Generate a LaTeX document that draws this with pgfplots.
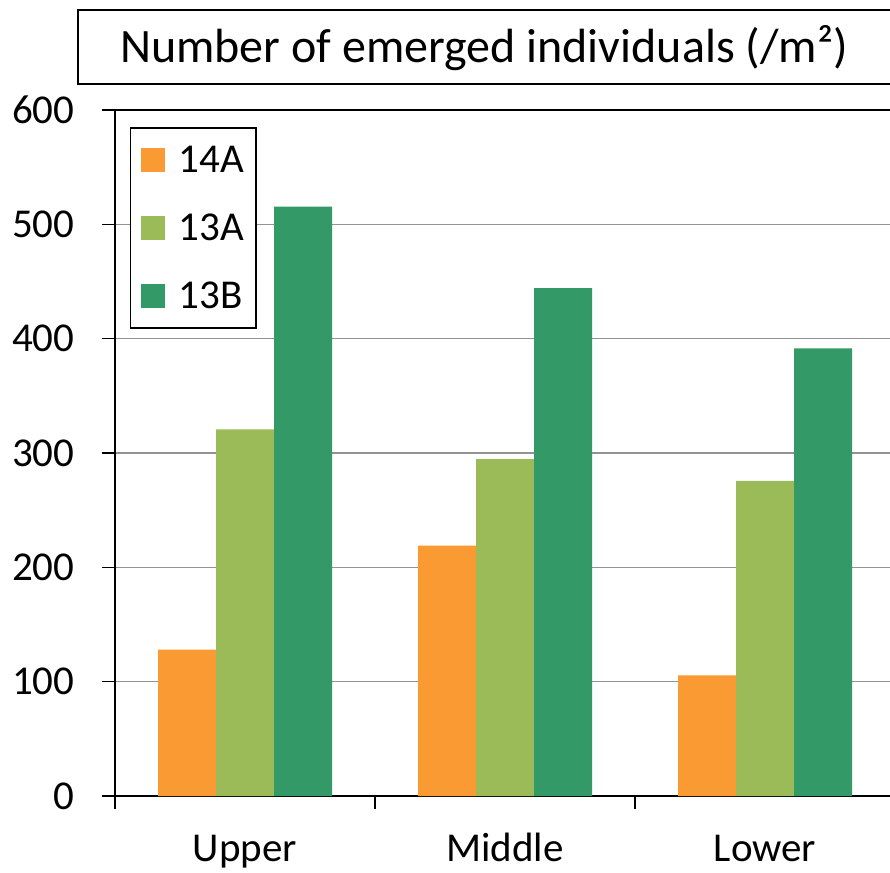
\documentclass[border=0pt]{standalone}
\usepackage{fontspec}
\setmainfont{Carlito}
\usepackage{pgfplots}
\pgfplotsset{compat=1.18}
\definecolor{c14A}{HTML}{F99A33}
\definecolor{c13A}{HTML}{9BBB59}
\definecolor{c13B}{HTML}{339966}
\begin{document}
\begin{tikzpicture}[x=1pt,y=1pt]
\path[use as bounding box] (0,0) rectangle (890,872);
\clip (0,0) rectangle (890,872);
\draw[line width=1.5pt] (78,788) rectangle (910,862);
\node[font=\fontsize{48}{56}\selectfont] at (484,824) {Number of emerged individuals (/m²)};
\begin{axis}[
  at={(115pt,76pt)}, anchor=south west,
  scale only axis, width=780pt, height=686pt,
  ybar=0pt, bar width=58pt,
  xmin=-0.5, xmax=2.5, ymin=0, ymax=600,
  xtick={-0.5,0.5,1.5,2.5}, xticklabels={},
  extra x ticks={0,1,2}, extra x tick labels={Upper,Middle,Lower},
  extra x tick style={tick style={draw=none}, xticklabel style={anchor=base, yshift=-52pt}},
  ytick={0,100,...,600},
  tick pos=left,
  tick align=outside,
  major tick length=13pt,
  tick style={black, line width=1.5pt},
  ymajorgrids, xmajorgrids=false,
  grid style={gray!85, line width=1.5pt},
  axis line style={black, line width=2pt},
  /pgf/number format/assume math mode=true,
  ticklabel style={font=\fontsize{41}{48}\selectfont},
  yticklabel style={anchor=east, xshift=-24pt},
  legend style={at={(rel axis cs:0.0192,0.9752)}, anchor=north west,
    draw=black, line width=1.5pt, font=\fontsize{41}{48}\selectfont,
    row sep=36pt, inner xsep=10pt, inner ysep=16pt},
  legend cell align=left,
]
\addplot[fill=c14A, draw=none, legend image code/.code={\fill[c14A] (14pt,-12pt) rectangle (38pt,12pt); \path (50pt,0pt);}] coordinates {(0,128) (1,219) (2,105.5)};
\addplot[fill=c13A, draw=none, legend image code/.code={\fill[c13A] (14pt,-12pt) rectangle (38pt,12pt); \path (50pt,0pt);}] coordinates {(0,320.6) (1,294.7) (2,275.7)};
\addplot[fill=c13B, draw=none, legend image code/.code={\fill[c13B] (14pt,-12pt) rectangle (38pt,12pt); \path (50pt,0pt);}] coordinates {(0,515.5) (1,444.3) (2,391.5)};
\legend{14A,13A,13B}
\end{axis}
\end{tikzpicture}
\end{document}
